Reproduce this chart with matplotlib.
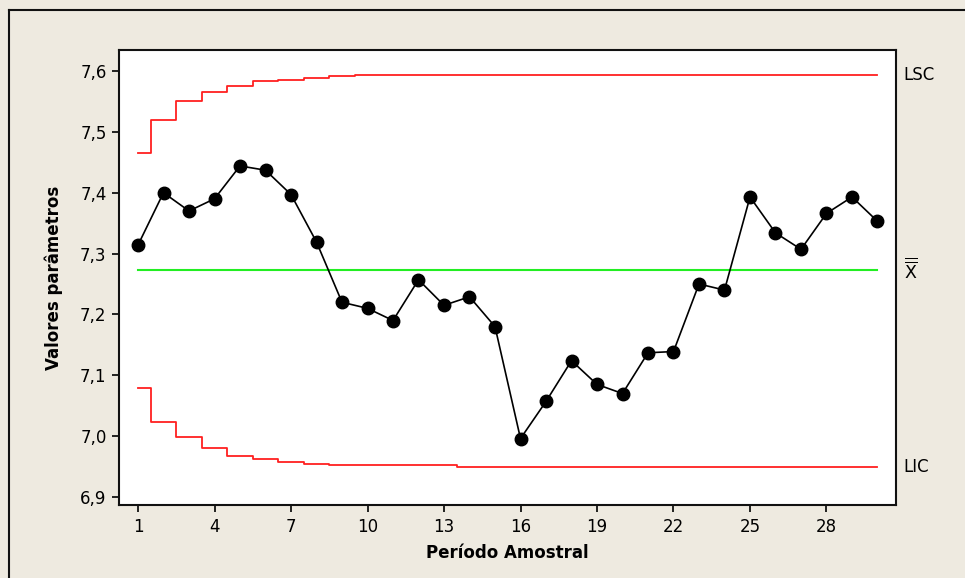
import matplotlib
matplotlib.use("Agg")
import matplotlib.pyplot as plt
from matplotlib.lines import Line2D

periods = list(range(1, 31))
values = [7.314, 7.400, 7.370, 7.390, 7.444, 7.437, 7.397, 7.319, 7.220, 7.210,
          7.190, 7.257, 7.215, 7.229, 7.180, 6.996, 7.057, 7.124, 7.085, 7.070,
          7.137, 7.139, 7.250, 7.240, 7.393, 7.334, 7.307, 7.366, 7.393, 7.353]
center = 7.2735
ucl = [7.465, 7.519, 7.550, 7.566, 7.576, 7.584, 7.586, 7.5885, 7.591, 7.594,
       7.594, 7.594, 7.594, 7.594, 7.594, 7.594, 7.594, 7.594, 7.594, 7.594,
       7.594, 7.594, 7.594, 7.594, 7.594, 7.594, 7.594, 7.594, 7.594, 7.594]
lcl = [7.079, 7.024, 6.998, 6.981, 6.967, 6.963, 6.958, 6.955, 6.953, 6.953,
       6.953, 6.953, 6.953, 6.950, 6.950, 6.950, 6.950, 6.950, 6.950, 6.950,
       6.950, 6.950, 6.950, 6.950, 6.950, 6.950, 6.950, 6.950, 6.950, 6.950]
xticks = [1, 4, 7, 10, 13, 16, 19, 22, 25, 28]
yticks = [6.9, 7.0, 7.1, 7.2, 7.3, 7.4, 7.5, 7.6]

W, H = 965, 578
bg = "#EEEAE0"
fig = plt.figure(figsize=(W / 100, H / 100), dpi=100, facecolor=bg)
ax = fig.add_axes([119 / W, 1 - 505 / H, (896 - 119) / W, (505 - 50) / H])
ax.set_facecolor("white")

ax.plot(periods, ucl, drawstyle="steps-mid", color="#FF2020", lw=1.3)
ax.plot(periods, lcl, drawstyle="steps-mid", color="#FF2020", lw=1.3)
ax.plot([periods[0], periods[-1]], [center, center], color="#22EE22", lw=1.5)
ax.plot(periods, values, color="black", lw=1.2, marker="o", ms=9,
        markerfacecolor="black", markeredgecolor="black")

x_lo = 1 - (138 - 119) / 25.5
x_hi = 30 + (896 - 877.5) / 25.5
ax.set_xlim(x_lo, x_hi)
px = 60.86 / 0.1
ax.set_ylim(6.9 - (505 - 497) / px, 7.6 + (71 - 50) / px)

ax.set_xticks(xticks)
ax.set_xticklabels([str(t) for t in xticks])
ax.set_yticks(yticks)
ax.set_yticklabels([f"{t:.1f}".replace(".", ",") for t in yticks])
ax.tick_params(axis="both", labelsize=12, length=5, width=1.2, color="black", pad=4)
for s in ax.spines.values():
    s.set_linewidth(1.5)
    s.set_color("#111111")

ax.set_xlabel("Período Amostral", fontsize=12, fontweight="bold", labelpad=6)
ax.set_ylabel("Valores parâmetros", fontsize=12, fontweight="bold", labelpad=12)

ax.text(1.01, 7.594, "LSC", transform=ax.get_yaxis_transform(), fontsize=12,
        va="center", ha="left")
ax.text(1.01, 6.950, "LIC", transform=ax.get_yaxis_transform(), fontsize=12,
        va="center", ha="left")
ax.text(1.01, center, r"$\overline{\overline{\mathrm{X}}}$", transform=ax.get_yaxis_transform(),
        fontsize=12.5, va="center", ha="left")

# outer frame (top and left edges visible)
fig.add_artist(Line2D([9 / W, 9 / W], [0, 1 - 10 / H], color="#111111", lw=1.5,
                      transform=fig.transFigure))
fig.add_artist(Line2D([9 / W, 1], [1 - 10 / H, 1 - 10 / H], color="#111111", lw=1.5,
                      transform=fig.transFigure))

fig.savefig("out.png", dpi=100, facecolor=bg)
